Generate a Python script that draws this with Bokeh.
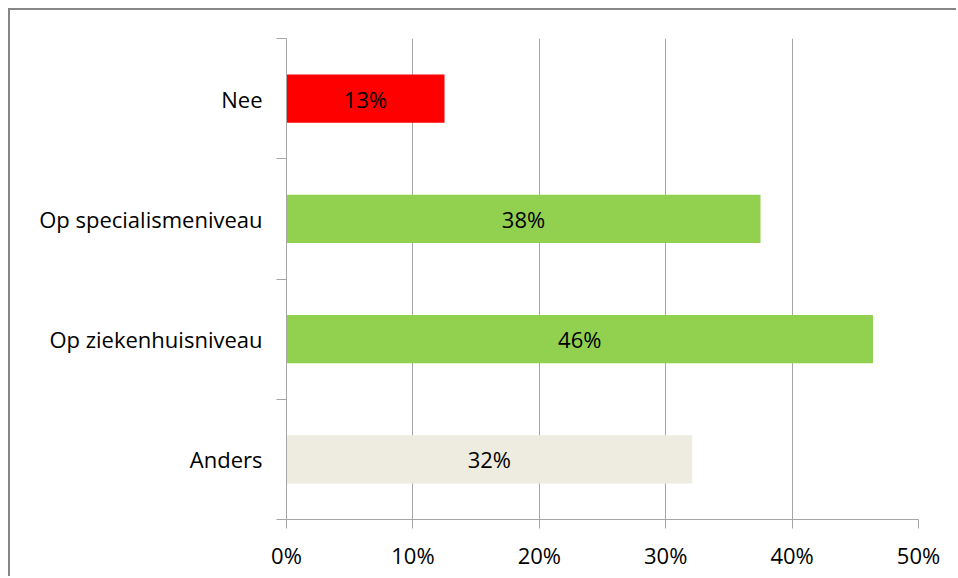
from bokeh.plotting import figure
from bokeh.models import FixedTicker, ColumnDataSource, LabelSet
from bokeh.core.properties import value
from bokeh.embed import file_html
from bokeh.resources import INLINE

categories = ["Nee", "Op specialismeniveau", "Op ziekenhuisniveau", "Anders"]
values = [12.5, 37.5, 46.4, 32.1]
data_labels = ["13%", "38%", "46%", "32%"]
colors = ["#FF0000", "#92D050", "#92D050", "#EEECE1"]
x_ticks = [0, 10, 20, 30, 40, 50]
x_tick_labels = ["0%", "10%", "20%", "30%", "40%", "50%"]

n = len(categories)
ypos = [n - i - 0.5 for i in range(n)]

src = ColumnDataSource(dict(y=ypos, v=values, half=[v / 2 for v in values],
                            lab=data_labels, c=colors))

FONT = "Open Sans"
FS = "22px"
GRAY = "#A6A6A6"

p = figure(width=948, height=568, output_backend="svg", toolbar_location=None,
           x_range=(0, 50), y_range=(0, n),
           min_border_left=276, min_border_right=40, min_border_top=28, min_border_bottom=59)
p.styles = {"border-left": "2px solid #868686", "border-top": "2px solid #868686",
            "margin-left": "8px", "margin-top": "8px"}
p.outline_line_color = None
p.background_fill_color = "white"
p.border_fill_color = "white"

p.hbar(y="y", left=0, right="v", height=0.4, fill_color="c", line_color=None, source=src)

p.add_layout(LabelSet(x="half", y="y", text="lab", source=src, text_align="center",
                      text_baseline="middle", text_font=value(FONT), text_font_size=FS,
                      text_color="black"))

# x axis
p.xaxis.ticker = FixedTicker(ticks=x_ticks)
p.xaxis.major_label_overrides = {t: l for t, l in zip(x_ticks, x_tick_labels)}
p.xaxis.axis_line_color = GRAY
p.xaxis.major_tick_line_color = GRAY
p.xaxis.major_tick_out = 9
p.xaxis.major_tick_in = 0
p.xaxis.minor_tick_line_color = None
p.xaxis.major_label_text_font = FONT
p.xaxis.major_label_text_font_size = FS
p.xaxis.major_label_text_color = "black"
p.xaxis.major_label_standoff = 11

# y axis
p.yaxis.ticker = FixedTicker(ticks=ypos, minor_ticks=list(range(n + 1)))
p.yaxis.major_label_overrides = {y: c for y, c in zip(ypos, categories)}
p.yaxis.axis_line_color = GRAY
p.yaxis.major_tick_line_color = None
p.yaxis.major_tick_out = 0
p.yaxis.major_tick_in = 0
p.yaxis.minor_tick_line_color = GRAY
p.yaxis.minor_tick_out = 10
p.yaxis.minor_tick_in = 0
p.yaxis.major_label_text_font = FONT
p.yaxis.major_label_text_font_size = FS
p.yaxis.major_label_text_color = "black"
p.yaxis.major_label_standoff = 14

p.xgrid.ticker = FixedTicker(ticks=x_ticks[1:])
p.xgrid.grid_line_color = GRAY
p.ygrid.grid_line_color = None

open("out.html", "w").write(file_html(p, INLINE))
